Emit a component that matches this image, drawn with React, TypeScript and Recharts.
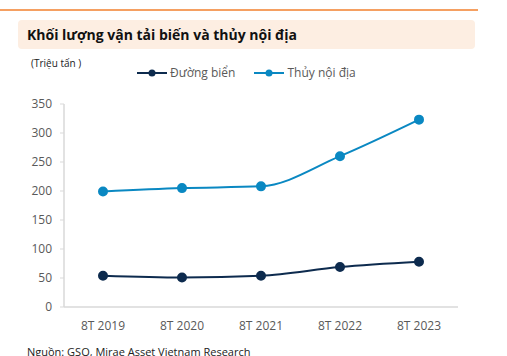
import React from 'react';
import { LineChart, Line, XAxis, YAxis } from 'recharts';

const years = ['8T 2019', '8T 2020', '8T 2021', '8T 2022', '8T 2023'];
const duongBien = [54, 51, 54, 69, 78];
const thuyNoiDia = [199, 205, 208, 260, 323];
const yTicks = [0, 50, 100, 150, 200, 250, 300, 350];

const NAVY = '#0d2b4e';
const BLUE = '#0a88c2';
const FONT = '"Open Sans", "Noto Sans", sans-serif';

const series = [
  { key: 'bien', name: 'Đường biển', color: NAVY },
  { key: 'thuy', name: 'Thủy nội địa', color: BLUE },
];

const data = years.map((y, i) => ({
  year: y,
  bien: duongBien[i],
  thuy: thuyNoiDia[i],
}));

export default function App() {
  return (
    <div style={{ position: 'absolute', left: 0, top: 0, width: 507, height: 356, background: '#fff', overflow: 'hidden', fontFamily: FONT }}>
      <div style={{ position: 'absolute', left: 0, top: 9, width: 478, height: 1.5, background: '#f5a062' }} />
      <div style={{ position: 'absolute', left: 18, top: 20, width: 457, height: 29, background: '#fdeee2', borderRadius: 4 }} />
      <div style={{ position: 'absolute', left: 27, top: 25, fontSize: 14, fontWeight: 700, color: '#111' }}>
        Khối lượng vận tải biến và thủy nội địa
      </div>
      <div style={{ position: 'absolute', left: 31, top: 56, fontSize: 10, color: '#222' }}>(Triệu tấn )</div>
      {/* legend */}
      <div style={{ position: 'absolute', left: 137, top: 64, display: 'flex', gap: 19, fontSize: 12, color: '#595959' }}>
        {series.map((s) => (
          <div key={s.key} style={{ display: 'flex', alignItems: 'center' }}>
            <svg width={30} height={10} style={{ marginRight: 3 }}>
              <line x1={0} y1={5} x2={30} y2={5} stroke={s.color} strokeWidth={2} />
              <circle cx={15} cy={5} r={3.5} fill={s.color} />
            </svg>
            <span>{s.name}</span>
          </div>
        ))}
      </div>
      <div style={{ position: 'absolute', left: 27, top: 344, fontSize: 11, color: '#222' }}>
        Nguồn: GSO, Mirae Asset Vietnam Research
      </div>
      <div style={{ position: 'absolute', left: 0, top: 0 }}>
        <LineChart width={507} height={356} data={data} margin={{ top: 104, right: 49, bottom: 19, left: 14 }}>
          <XAxis
            dataKey="year"
            height={30}
            padding={{ left: 39, right: 39 }}
            axisLine={{ stroke: '#d9d9d9', strokeWidth: 1.5 }}
            tickLine={false}
            tick={{ fill: '#595959', fontSize: 12, fontFamily: FONT }}
            tickMargin={8}
          />
          <YAxis
            width={50}
            domain={[0, 350]}
            ticks={yTicks}
            interval={0}
            axisLine={{ stroke: '#d9d9d9', strokeWidth: 1.5 }}
            tickLine={{ stroke: '#d9d9d9' }}
            tickSize={4}
            tick={{ fill: '#595959', fontSize: 12, fontFamily: FONT }}
            tickMargin={8}
          />
          {series.map((s) => (
            <Line
              key={s.key}
              type="monotone"
              dataKey={s.key}
              name={s.name}
              stroke={s.color}
              strokeWidth={2}
              dot={{ r: 4, fill: s.color, stroke: s.color }}
              isAnimationActive={false}
            />
          ))}
        </LineChart>
      </div>
    </div>
  );
}
